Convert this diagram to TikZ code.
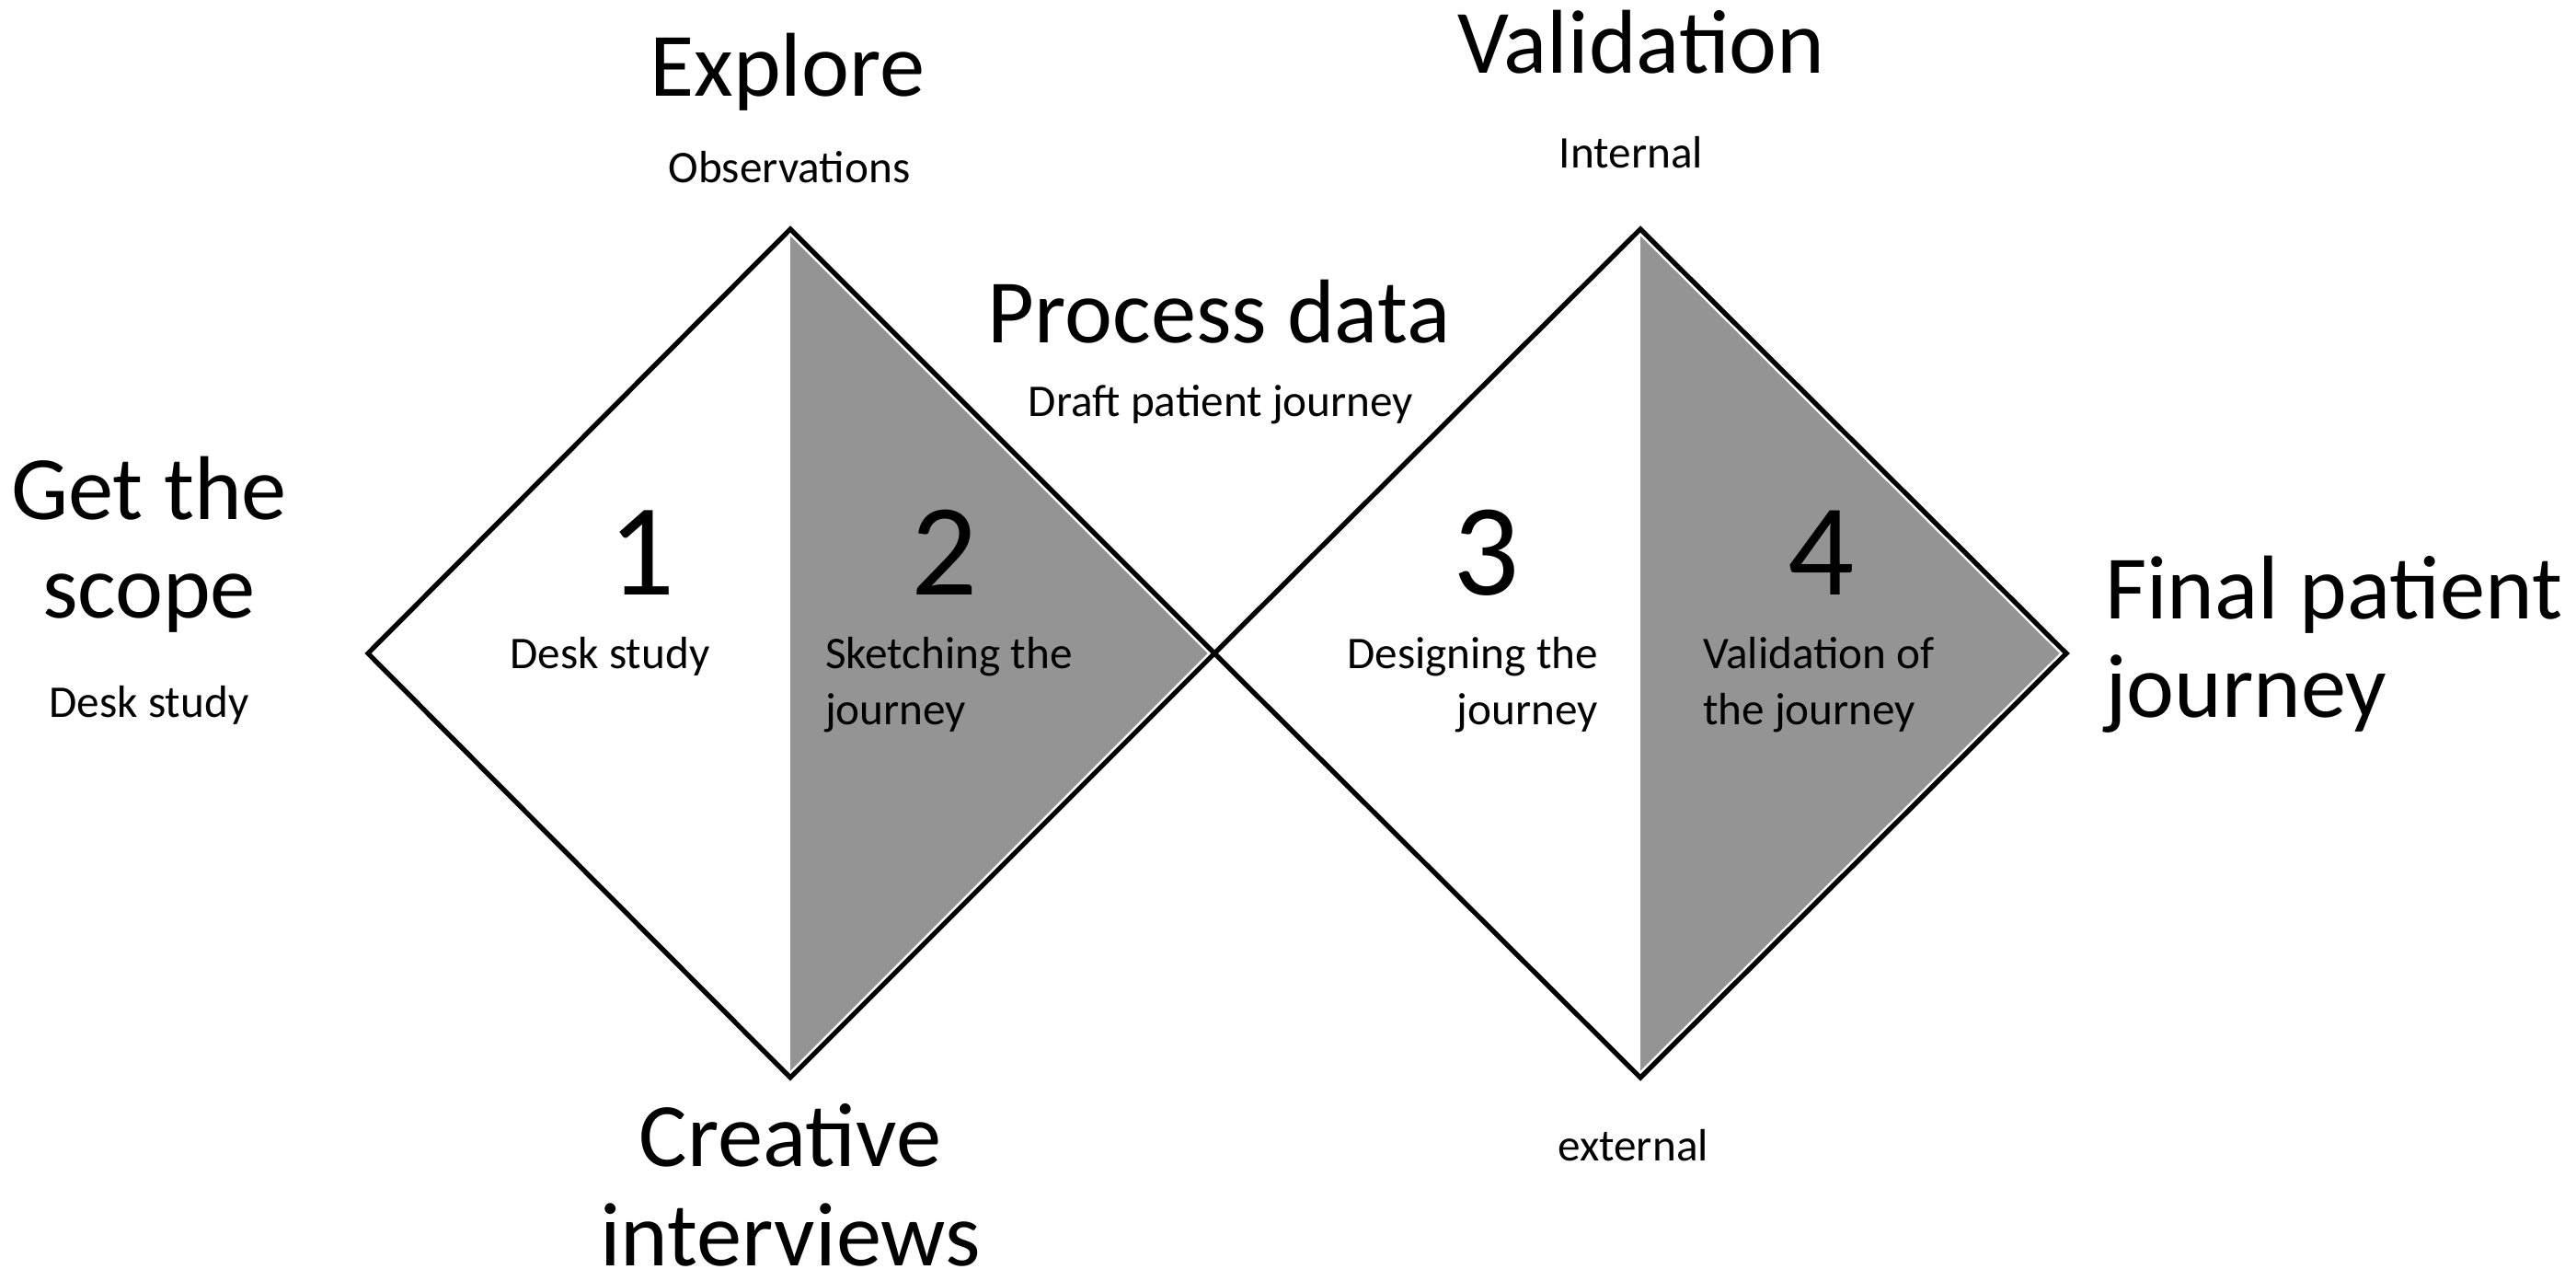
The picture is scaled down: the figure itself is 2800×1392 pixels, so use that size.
\documentclass[tikz,border=0pt]{standalone}
\usepackage{fontspec}
\setmainfont{Carlito}
\newcommand\lblbig{\fontsize{28pt}{30.7pt}\selectfont}
\newcommand\lblsmall{\fontsize{14pt}{17.4pt}\selectfont}
\newcommand\lbldigit{\fontsize{40.5pt}{44pt}\selectfont}
\definecolor{fillgray}{gray}{0.58}
\begin{document}
\begin{tikzpicture}[x=0.01cm,y=-0.01cm,
  edge/.style={draw=black,line width=1.5pt,line join=miter},
  gapline/.style={draw=white,line width=2.9pt},
  half/.style={fill=fillgray},
  txt/.style={inner sep=0pt,outer sep=0pt,text=black},
  bigl/.style={txt,font=\lblbig},
  smalll/.style={txt,font=\lblsmall},
  digitl/.style={txt,font=\lbldigit}]
\useasboundingbox (0,0) rectangle (2800,1392);
\fill[white] (0,0) rectangle (2800,1392);
% diamond corners
\coordinate (d1l) at (400,710);
\coordinate (d1t) at (859,249);
\coordinate (d1r) at (1320,710);
\coordinate (d1b) at (859,1171);
\coordinate (d2t) at (1783,249);
\coordinate (d2r) at (2246,710);
\coordinate (d2b) at (1783,1171);
% grey halves
\fill[half] (d1t) -- (d1r) -- (d1b) -- cycle;
\fill[half] (d2t) -- (d2r) -- (d2b) -- cycle;
\draw[gapline] (d1t) -- (d1r) -- (d1b);
\draw[gapline] (d2t) -- (d2r) -- (d2b);
% outlines
\draw[edge] (d1l) -- (d1t) -- (d1r) -- (d1b) -- cycle;
\draw[edge] (d1r) -- (d2t) -- (d2r) -- (d2b) -- cycle;
% outer labels (multi-line nodes: base = last line's baseline)
\node[bigl,anchor=base] (explore) at (856,105) {Explore};
\node[smalll,anchor=base] (obs) at (858,199) {Observations};
\node[bigl,anchor=base] (process) at (1325,373) {Process data};
\node[smalll,anchor=base] (draft) at (1327,453) {Draft patient journey};
\node[bigl,anchor=base] (valid) at (1784,80) {Validation};
\node[smalll,anchor=base] (internal) at (1773,183) {Internal};
\node[bigl,anchor=base,align=center] (scope) at (162,672) {Get the\\scope};
\node[smalll,anchor=base] (deskout) at (162,780) {Desk study};
\node[bigl,anchor=base,align=center] (creative) at (859,1375) {Creative\\interviews};
\node[smalll,anchor=base] (external) at (1775,1261) {external};
\node[bigl,anchor=base west,align=left] (final) at (2288,780) {Final patient\\journey};
% inner labels
\node[digitl,anchor=base] (n1) at (698,647) {1};
\node[digitl,anchor=base] (n2) at (1027,647) {2};
\node[digitl,anchor=base] (n3) at (1616,647) {3};
\node[digitl,anchor=base] (n4) at (1980,647) {4};
\node[smalll,anchor=base] (deskin) at (663,727) {Desk study};
\node[smalll,anchor=base west,align=left] (sketch) at (897,788) {Sketching the\\journey};
\node[smalll,anchor=base east,align=right] (design) at (1737,788) {Designing the\\journey};
\node[smalll,anchor=base west,align=left] (validj) at (1851,788) {Validation of\\the journey};
\end{tikzpicture}
\end{document}
